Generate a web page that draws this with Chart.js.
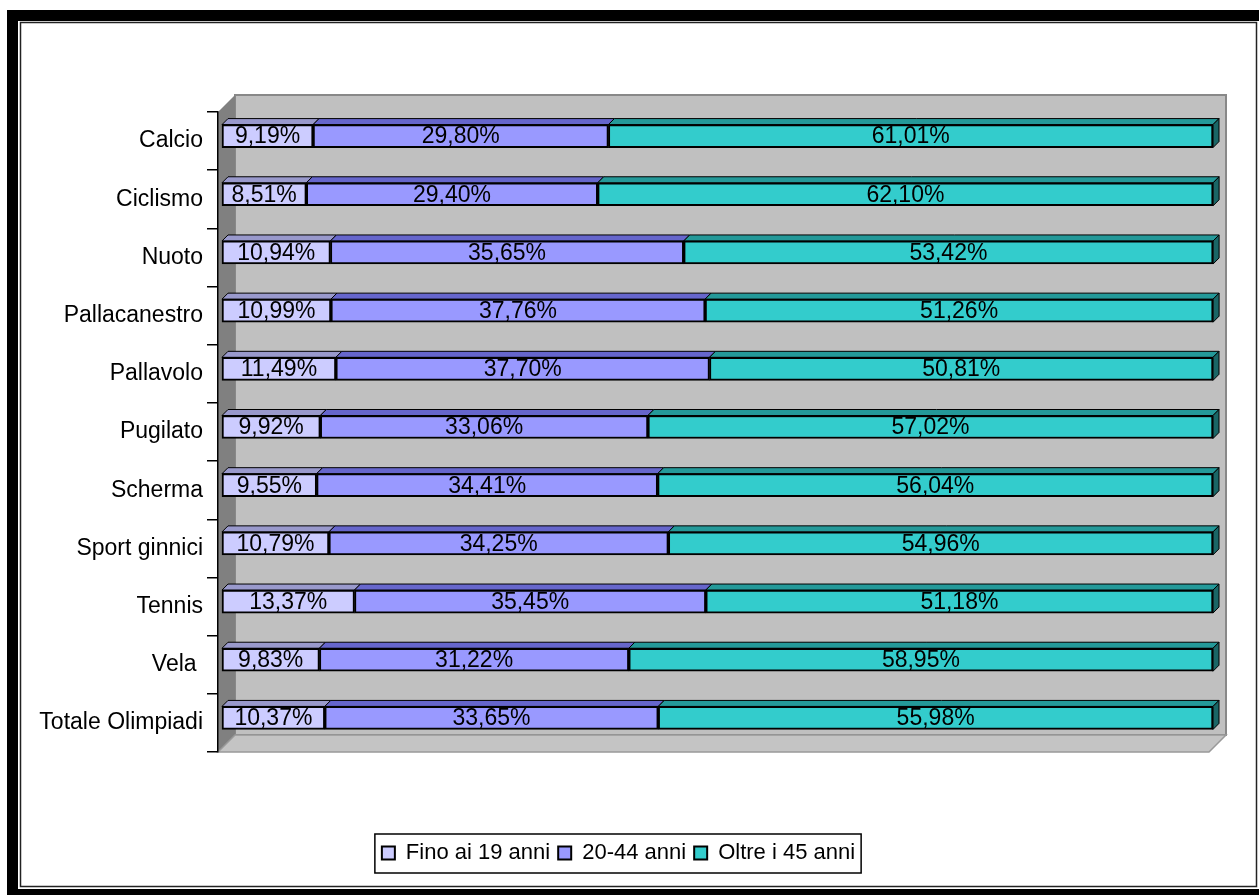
<!DOCTYPE html>
<html>
<head>
<meta charset="utf-8">
<script src="https://cdn.jsdelivr.net/npm/chart.js@4.4.1/dist/chart.umd.min.js"></script>
<style>
body { margin: 0; background: #fff; }
</style>
</head>
<body>
<canvas id="canvas" width="1259" height="895"></canvas>
<script>
var sport = ['Calcio', 'Ciclismo', 'Nuoto', 'Pallacanestro', 'Pallavolo', 'Pugilato', 'Scherma', 'Sport ginnici', 'Tennis', 'Vela ', 'Totale Olimpiadi'];
var fino19 = [9.19, 8.51, 10.94, 10.99, 11.49, 9.92, 9.55, 10.79, 13.37, 9.83, 10.37];
var da20a44 = [29.80, 29.40, 35.65, 37.76, 37.70, 33.06, 34.41, 34.25, 35.45, 31.22, 33.65];
var oltre45 = [61.01, 62.10, 53.42, 51.26, 50.81, 57.02, 56.04, 54.96, 51.18, 58.95, 55.98];
var serie = ['Fino ai 19 anni', '20-44 anni', 'Oltre i 45 anni'];

var colori = ['#CCCCFF', '#9999FF', '#33CCCC'];
var coloriSopra = ['#9999CC', '#6666CC', '#249999'];
var coloriLato = ['#8080AA', '#4D4D99', '#1A6666'];
var font = 'Liberation Sans, Arial, sans-serif';

// cornice, pareti e pavimento grigio
var sfondo = {
    id: 'sfondo',
    beforeDraw: function(chart) {
        var c = chart.ctx;
        var a = chart.chartArea;
        var D = 17;
        c.save();
        c.fillStyle = '#fff';
        c.fillRect(0, 0, chart.width, chart.height);
        c.fillStyle = '#000';
        c.fillRect(7, 10, 1252, 11);
        c.fillRect(7, 10, 11, 885);
        c.fillRect(7, 889, 1252, 6);
        c.strokeStyle = '#222';
        c.lineWidth = 1.5;
        c.strokeRect(20.5, 22.5, 1236, 864);

        // parete di fondo
        c.fillStyle = '#C0C0C0';
        c.fillRect(a.left + D, a.top - D, a.right - a.left, a.bottom - a.top);
        c.strokeStyle = '#888';
        c.lineWidth = 2;
        c.strokeRect(a.left + D, a.top - D, a.right - a.left, a.bottom - a.top);
        // parete sinistra
        c.fillStyle = '#808080';
        c.beginPath();
        c.moveTo(a.left, a.top);
        c.lineTo(a.left + D, a.top - D);
        c.lineTo(a.left + D, a.bottom - D);
        c.lineTo(a.left, a.bottom);
        c.closePath();
        c.fill();
        // pavimento
        c.fillStyle = '#C4C4C4';
        c.beginPath();
        c.moveTo(a.left, a.bottom);
        c.lineTo(a.left + D, a.bottom - D);
        c.lineTo(a.right + D, a.bottom - D);
        c.lineTo(a.right, a.bottom);
        c.closePath();
        c.fill();
        c.strokeStyle = '#999';
        c.lineWidth = 1.5;
        c.stroke();
        c.restore();
    }
};

// facce 3D delle barre + etichette
var barre3d = {
    id: 'barre3d',
    beforeDatasetsDraw: function(chart) {
        var c = chart.ctx;
        var d = 6;
        c.save();
        c.translate(4, -5);
        chart.data.datasets.forEach(function(ds, i) {
            var meta = chart.getDatasetMeta(i);
            meta.data.forEach(function(el) {
                var p = el.getProps(['x', 'y', 'base', 'height'], true);
                var top = p.y - p.height / 2;
                c.beginPath();
                c.moveTo(p.base, top);
                c.lineTo(p.base + d, top - d);
                c.lineTo(p.x + d, top - d);
                c.lineTo(p.x, top);
                c.closePath();
                c.fillStyle = coloriSopra[i];
                c.fill();
                c.strokeStyle = '#000';
                c.lineWidth = 1;
                c.stroke();
                if (i == chart.data.datasets.length - 1) {
                    c.beginPath();
                    c.moveTo(p.x, top);
                    c.lineTo(p.x + d, top - d);
                    c.lineTo(p.x + d, top + p.height - d);
                    c.lineTo(p.x, top + p.height);
                    c.closePath();
                    c.fillStyle = coloriLato[i];
                    c.fill();
                    c.stroke();
                }
            });
        });
    },
    afterDatasetsDraw: function(chart) {
        var c = chart.ctx;
        c.fillStyle = '#000';
        c.font = '23px ' + font;
        c.textAlign = 'center';
        c.textBaseline = 'middle';
        chart.data.datasets.forEach(function(ds, i) {
            var meta = chart.getDatasetMeta(i);
            meta.data.forEach(function(el, j) {
                var p = el.getProps(['x', 'y', 'base'], true);
                var testo = ds.data[j].toFixed(2).replace('.', ',') + '%';
                c.fillText(testo, (p.x + p.base) / 2, p.y + 1);
            });
        });
        c.restore();
    },
    afterDraw: function(chart) {
        // riquadro della legenda
        var lg = chart.legend;
        var hb = lg.legendHitBoxes;
        if (!hb || !hb.length) return;
        var c = chart.ctx;
        var l = hb[0].left - 7;
        var r = hb[hb.length - 1].left + hb[hb.length - 1].width + 6;
        var t = hb[0].top - 8;
        var b = hb[0].top + hb[0].height + 9;
        c.save();
        c.strokeStyle = '#000';
        c.lineWidth = 1.5;
        c.strokeRect(l, t, r - l, b - t);
        c.restore();
    }
};

var ctx = document.getElementById('canvas').getContext('2d');
var myChart = new Chart(ctx, {
    type: 'bar',
    data: {
        labels: sport,
        datasets: [{
            label: serie[0],
            data: fino19,
            backgroundColor: colori[0],
            borderColor: '#000',
            borderWidth: 2,
            borderSkipped: false,
            barThickness: 23
        },
        {
            label: serie[1],
            data: da20a44,
            backgroundColor: colori[1],
            borderColor: '#000',
            borderWidth: 2,
            borderSkipped: false,
            barThickness: 23
        },
        {
            label: serie[2],
            data: oltre45,
            backgroundColor: colori[2],
            borderColor: '#000',
            borderWidth: 2,
            borderSkipped: false,
            barThickness: 23
        }]
    },
    options: {
        indexAxis: 'y',
        responsive: false,
        animation: false,
        layout: {
            padding: { left: 28, right: 50, top: 112, bottom: 21 }
        },
        plugins: {
            tooltip: { enabled: false },
            legend: {
                position: 'bottom',
                labels: {
                    color: '#000',
                    boxWidth: 13,
                    boxHeight: 13,
                    padding: 8,
                    font: { family: font, size: 22 }
                }
            }
        },
        datasets: { bar: { clip: false } },
        scales: {
            x: {
                stacked: true,
                min: 0,
                max: 100,
                grid: { display: false },
                border: { display: false },
                ticks: { display: false },
                afterFit: function(s) { s.height = 82; }
            },
            y: {
                stacked: true,
                grid: { drawOnChartArea: false, tickLength: 11, color: '#000', lineWidth: 1.5 },
                border: { color: '#000', width: 1.5 },
                ticks: { color: '#000', padding: 4, font: { family: font, size: 23 } },
                afterFit: function(s) { s.width = 190; }
            }
        }
    },
    plugins: [sfondo, barre3d]
});
</script>
</body>
</html>
